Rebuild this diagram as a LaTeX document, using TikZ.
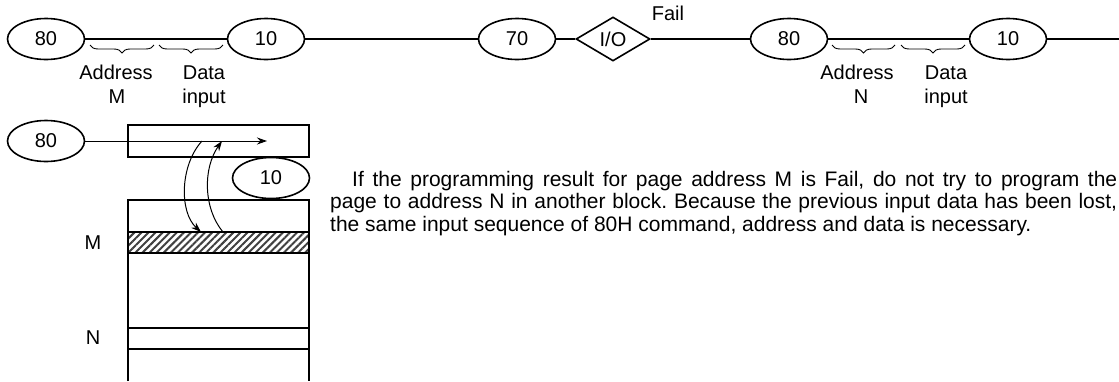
\documentclass[tikz,border=0pt]{standalone}
\usepackage{fontspec}
\setmainfont{Liberation Sans}
\usetikzlibrary{arrows.meta,positioning,shapes.geometric,decorations.pathreplacing,patterns.meta}
\tikzset{
  cmdnode/.style={draw, ellipse, line width=1.6pt, minimum width=77pt, minimum height=41pt,
    inner sep=0pt, font=\fontsize{20}{24}\selectfont},
  ionode/.style={draw, diamond, line width=1.6pt, minimum width=74pt, minimum height=44pt,
    inner sep=0pt, font=\fontsize{20}{24}\selectfont},
  busline/.style={line width=1.6pt},
  lbl/.style={font=\fontsize{20}{24}\selectfont, anchor=base, inner sep=0pt},
  brc/.style={decorate, decoration={brace, mirror, amplitude=8pt}, line width=0.9pt},
  arr/.style={-{Stealth[length=10pt, width=7pt]}, line width=1pt},
  rowline/.style={line width=1.1pt},
  hatch/.style={pattern={Lines[angle=45, distance=5pt, line width=2pt]}, pattern color=black!75}
}
\begin{document}
\begin{tikzpicture}[x=1pt,y=-1pt]
  \useasboundingbox (0,0) rectangle (1119,381);
  % command sequence
  \node[cmdnode] (c80a) at (46,39) {80};
  \node[cmdnode] (c10a) at (266,39) {10};
  \node[cmdnode] (c70) at (517,39) {70};
  \node[ionode] (io) at (613,39) {I/O};
  \node[cmdnode] (c80b) at (789,39) {80};
  \node[cmdnode] (c10b) at (1008,39) {10};
  \coordinate (rend) at (1119,39);
  \draw[busline] (c80a) -- (c10a) -- (c70) -- (io) -- (c80b) -- (c10b) -- (rend);
  \node[lbl, anchor=center] (fail) at (668,13) {Fail};
  \draw[brc] (90,45) -- (154,45);
  \draw[brc] (159,45) -- (223,45);
  \draw[brc] (832,45) -- (895,45);
  \draw[brc] (901,45) -- (965,45);
  \node[lbl] (addrM) at (116,79) {Address};
  \node[lbl] (nameM) at (117,103) {M};
  \node[lbl] (dataM) at (204,79) {Data};
  \node[lbl] (inM) at (204,103) {input};
  \node[lbl] (addrN) at (857,79) {Address};
  \node[lbl] (nameN) at (861,103) {N};
  \node[lbl] (dataN) at (946,79) {Data};
  \node[lbl] (inN) at (946,103) {input};
  % page register and block
  \node[cmdnode] (c80c) at (46,141) {80};
  \node[cmdnode] (c10c) at (271,178) {10};
  \draw[rowline] (128,125) rectangle (309,157);
  \fill[hatch] (128,232) rectangle (309,253);
  \draw[rowline] (128,381) -- (128,200) -- (309,200) -- (309,381);
  \foreach \yy in {232,253,328,349}
    \draw[rowline] (128,\yy) -- (309,\yy);
  \node[lbl, anchor=center] (rowM) at (93,243) {M};
  \node[lbl, anchor=center] (rowN) at (93,338) {N};
  \coordinate (regin) at (267,141);
  \coordinate (outtop) at (202,141);
  \coordinate (outbot) at (201,232);
  \coordinate (intop) at (222,141);
  \coordinate (inbot) at (223,232);
  \draw[arr] (c80c) -- (regin);
  \draw[arr] (outtop) .. controls (180,165) and (179,212) .. (outbot);
  \draw[arr] (inbot) .. controls (203,208) and (203,168) .. (intop);
  \node[anchor=base west, inner sep=0pt, text width=787pt, align=justify,
    font=\fontsize{21}{22.5}\selectfont\frenchspacing] (note) at (330,186)
    {\hspace*{22pt}If the programming result for page address M is Fail, do not try to program the\linebreak
     page to address N in another block. Because the previous input data has been lost,\linebreak
     the same input sequence of 80H command, address and data is necessary.};
\end{tikzpicture}
\end{document}
